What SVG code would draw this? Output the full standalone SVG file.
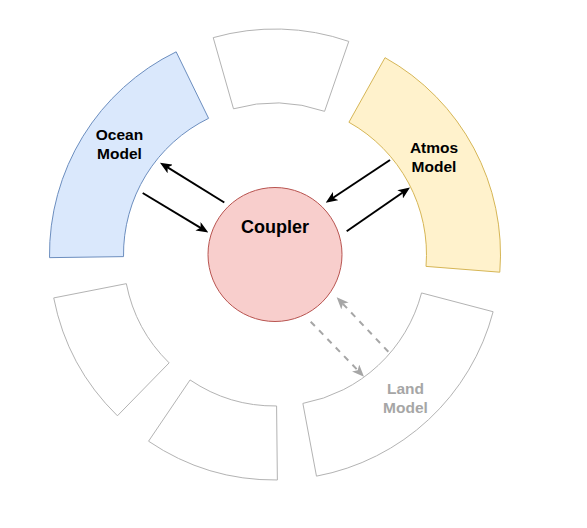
<svg xmlns="http://www.w3.org/2000/svg" width="587" height="528" viewBox="0 0 587 528">
<style>
.sec{fill:#ffffff;stroke:#b3b3b3;stroke-width:1}
.lbl{font-family:"Liberation Sans",Arial,sans-serif;font-weight:bold;font-size:15.5px;text-anchor:middle;fill:#000000}
.blk{stroke:#000000;stroke-width:2;fill:none;marker-end:url(#ab)}
.gry{stroke:#a6a6a6;stroke-width:2;fill:none;stroke-dasharray:6 6;marker-end:url(#ag)}
</style>
<defs>
<marker id="ab" markerUnits="userSpaceOnUse" markerWidth="12" markerHeight="10" viewBox="0 0 12 10" refX="4" refY="5" orient="auto"><path d="M0,0 L12,5 L0,10 L3,5 Z" fill="#000000"/></marker>
<marker id="ag" markerUnits="userSpaceOnUse" markerWidth="12" markerHeight="10" viewBox="0 0 12 10" refX="4" refY="5" orient="auto"><path d="M0,0 L12,5 L0,10 L3,5 Z" fill="#a6a6a6"/></marker>
</defs>
<rect width="587" height="528" fill="#ffffff"/>
<g id="top-sector"><path class="sec" d="M213.22,37.63 A225.5,225.5 0 0 1 348.79,41.41 L324.57,111.34 A151.5,151.5 0 0 0 233.50,108.80 Z"/></g>
<g id="bottom-sector"><path class="sec" d="M277.36,479.99 A225.5,225.5 0 0 1 148.55,441.21 L190.05,379.94 A151.5,151.5 0 0 0 276.59,405.98 Z"/></g>
<g id="left-bottom-sector"><path class="sec" d="M117.41,415.80 A225.5,225.5 0 0 1 53.72,297.91 L126.33,283.67 A151.5,151.5 0 0 0 169.13,362.87 Z"/></g>
<g id="ocean"><path d="M49.52,257.65 A225.5,225.5 0 0 1 176.15,51.82 L208.59,118.33 A151.5,151.5 0 0 0 123.52,256.62 Z" fill="#dae8fc" stroke="#6c8ebf" stroke-width="1"/>
<text class="lbl" x="119.5" y="139.5">Ocean</text><text class="lbl" x="119.5" y="158.5">Model</text></g>
<g id="atmos"><path d="M385.01,57.66 A225.5,225.5 0 0 1 499.81,272.19 L426.03,266.39 A151.5,151.5 0 0 0 348.91,122.25 Z" fill="#fff2cc" stroke="#d6b656" stroke-width="1"/>
<text class="lbl" x="434" y="153">Atmos</text><text class="lbl" x="434" y="171.5">Model</text></g>
<g id="land"><path class="sec" d="M493.12,311.72 A225.5,225.5 0 0 1 316.48,476.15 L302.87,403.42 A151.5,151.5 0 0 0 421.54,292.94 Z"/>
<text class="lbl" x="405.5" y="394" fill="#a6a6a6" style="fill:#a6a6a6">Land</text><text class="lbl" x="405.5" y="412.5" style="fill:#a6a6a6">Model</text></g>
<g id="coupler"><circle cx="275" cy="254.5" r="67" fill="#f8cecc" stroke="#b85450" stroke-width="1"/>
<text class="lbl" x="275" y="232.5" style="font-size:18px">Coupler</text></g>
<g id="connectors">
<line class="blk" x1="224.3" y1="202.5" x2="166.8" y2="166.9"/>
<line class="blk" x1="142.7" y1="193" x2="201.45" y2="228.37"/>
<line class="blk" x1="390" y1="160" x2="332.36" y2="198.28"/>
<line class="blk" x1="346.7" y1="231.3" x2="403.42" y2="192.05"/>
<line class="gry" x1="388.3" y1="351.7" x2="342.2" y2="303.1"/>
<line class="gry" x1="310.7" y1="321.7" x2="358.43" y2="370.96"/>
</g>
</svg>
